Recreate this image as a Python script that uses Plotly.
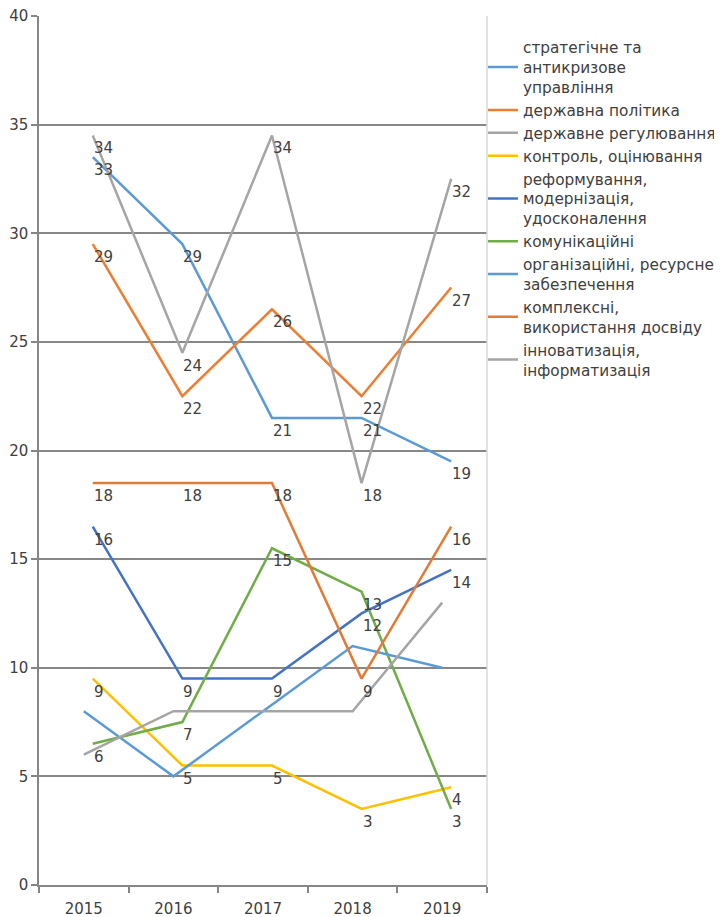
import plotly.graph_objects as go

years = [2015, 2016, 2017, 2018, 2019]
year_labels = ["2015", "2016", "2017", "2018", "2019"]

names = [
    "стратегічне та<br>антикризове<br>управління",
    "державна політика",
    "державне регулювання",
    "контроль, оцінювання",
    "реформування,<br>модернізація,<br>удосконалення",
    "комунікаційні",
    "організаційні, ресурсне<br>забезпечення",
    "комплексні,<br>використання досвіду",
    "інноватизація,<br>інформатизація",
]

s1 = [33.5, 29.5, 21.5, 21.5, 19.5]
s2 = [29.5, 22.5, 26.5, 22.5, 27.5]
s3 = [34.5, 24.5, 34.5, 18.5, 32.5]
s4 = [9.5, 5.5, 5.5, 3.5, 4.5]
s5 = [16.5, 9.5, 9.5, 12.5, 14.5]
s6 = [6.5, 7.5, 15.5, 13.5, 3.5]
s7 = [8, 5, 8, 11, 10]
s8 = [18.5, 18.5, 18.5, 9.5, 16.5]
s9 = [6, 8, 8, 8, 13]

l1 = ["33", "29", "21", "21", "19"]
l2 = ["29", "22", "26", "22", "27"]
l3 = ["34", "24", "34", "18", "32"]
l4 = ["9", "5", "5", "3", "4"]
l5 = ["16", "9", "9", "12", "14"]
l6 = ["6", "7", "15", "13", "3"]
l7 = None
l8 = ["18", "18", "18", "9", "16"]
l9 = None

series = [s1, s2, s3, s4, s5, s6, s7, s8, s9]
labels = [l1, l2, l3, l4, l5, l6, l7, l8, l9]

# styles
colors = ["#5B9BD5", "#ED7D31", "#A5A5A5", "#FFC000", "#4472C4",
          "#70AD47", "#5B9BD5", "#E27B36", "#A5A5A5"]
shifts = [0.1, 0.1, 0.1, 0.1, 0.1, 0.1, 0.0, 0.1, 0.0]

FONT = "DejaVu Sans"
fig = go.Figure()
annotations = []
for name, ys, lab, col, sh in zip(names, series, labels, colors, shifts):
    xs = [y + sh for y in years]
    fig.add_trace(go.Scatter(
        x=xs, y=ys, name=name, mode="lines",
        line=dict(color=col, width=2.5),
    ))
    if lab:
        for xv, yv, t in zip(xs, ys, lab):
            annotations.append(dict(
                x=xv, y=yv, xref="x", yref="y", text=t, showarrow=False,
                xanchor="left", yanchor="middle", xshift=-1, yshift=-13,
                font=dict(family=FONT, size=15, color="#404040"),
            ))

fig.add_shape(type="line", xref="paper", yref="paper", x0=1, x1=1, y0=0, y1=1,
              line=dict(color="#D9D9D9", width=1.5))

# page body adds an 8px margin, so the figure is 8px smaller on each side
fig.update_layout(
    width=714, height=909,
    margin=dict(l=31, r=235, t=8, b=32, autoexpand=False),
    paper_bgcolor="white", plot_bgcolor="white",
    font=dict(family=FONT, size=15, color="#404040"),
    showlegend=True,
    annotations=annotations,
    legend=dict(x=0.991, y=0.983, xanchor="left", yanchor="top",
                font=dict(family=FONT, size=15.3, color="#404040"),
                bgcolor="rgba(0,0,0,0)", tracegroupgap=0),
    xaxis=dict(range=[2014.5, 2019.5], tickvals=years, ticktext=year_labels,
               ticks="", showgrid=False, zeroline=False, automargin=False,
               showline=True, linecolor="#868686", linewidth=1.5,
               ticklabelstandoff=9, ticklabeloverflow="allow",
               minor=dict(tick0=2014.5, dtick=1, ticks="outside", ticklen=6,
                          tickcolor="#868686", tickwidth=1.5, showgrid=False),
               tickfont=dict(family=FONT, size=15, color="#404040")),
    yaxis=dict(range=[0, 40], dtick=5, showgrid=True, gridcolor="#878787",
               gridwidth=1.5, zeroline=False, showline=True, automargin=False,
               linecolor="#868686", linewidth=1.5, ticks="outside", ticklen=6,
               tickcolor="#868686", tickwidth=1.5, ticklabeloverflow="allow",
               tickfont=dict(family=FONT, size=15, color="#404040")),
)

fig.write_html("out.html")
